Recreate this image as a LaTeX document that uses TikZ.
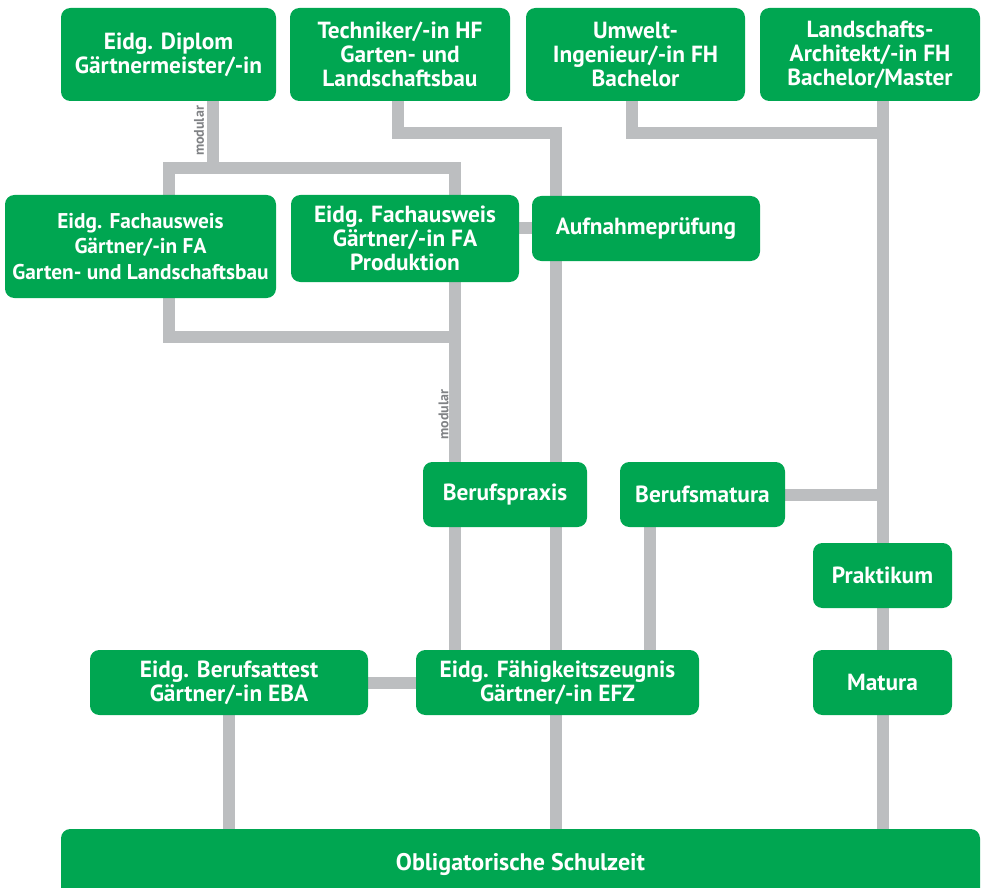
\documentclass[tikz,border=0pt]{standalone}
\usepackage{fontspec}
\setmainfont{PT Sans}
\usepackage{tikz}
\usetikzlibrary{backgrounds, calc}
\definecolor{gruen}{RGB}{0, 166, 81}
\definecolor{pfad}{RGB}{188, 190, 192}
\definecolor{modgrau}{RGB}{128, 130, 133}

\begin{document}
\begin{tikzpicture}[
    x=0.75pt, y=-0.75pt,
    box/.style={rectangle, rounded corners=7pt, fill=gruen, text=white, align=center, inner sep=0pt, font=\fontsize{17.5}{18}\selectfont\bfseries},
    obenbox/.style={box, minimum height=69.75pt},
    kleinbox/.style={box, minimum height=48.75pt},
    weg/.style={draw=pfad, line width=9pt},
    modtext/.style={font=\fontsize{10.5}{11}\selectfont\bfseries, text=modgrau, rotate=90, inner sep=0pt}
]
\useasboundingbox (0,0) rectangle (982,888);

% Abschluesse oben
\node[obenbox, minimum width=161.25pt] (diplom) at (168.5,54.5) {Eidg. Diplom\\Gärtnermeister/-in};
\node[obenbox, minimum width=165pt] (techniker) at (400,54.5) {Techniker/-in HF\\Garten- und\\Landschaftsbau};
\node[obenbox, minimum width=164.25pt] (umwelt) at (635.5,54.5) {Umwelt-\\Ingenieur/-in FH\\Bachelor};
\node[obenbox, minimum width=165pt] (architekt) at (870,54.5) {Landschafts-\\Architekt/-in FH\\Bachelor/Master};

% Fachausweise
\node[box, minimum width=203.25pt, minimum height=77.25pt, font=\fontsize{16}{19}\selectfont\bfseries] (fagarten) at (140.5,246.5) {Eidg. Fachausweis\\Gärtner/-in FA\\Garten- und Landschaftsbau};
\node[box, minimum width=171pt, minimum height=65.25pt] (faprod) at (405,238.5) {Eidg. Fachausweis\\Gärtner/-in FA\\Produktion};
\node[kleinbox, minimum width=171pt] (aufnahme) at (646,228.5) {Aufnahmeprüfung};

% Mitte
\node[kleinbox, minimum width=123pt] (praxis) at (505,494.5) {Berufspraxis};
\node[kleinbox, minimum width=123.75pt] (bmatura) at (702.5,494.5) {Berufsmatura};
\node[kleinbox, minimum width=104.25pt] (praktikum) at (882.5,575.5) {Praktikum};

% Grundbildung
\node[kleinbox, minimum width=208.5pt] (eba) at (229,682.5) {Eidg. Berufsattest\\Gärtner/-in EBA};
\node[kleinbox, minimum width=212.25pt] (efz) at (557.5,682.5) {Eidg. Fähigkeitszeugnis\\Gärtner/-in EFZ};
\node[kleinbox, minimum width=104.25pt] (matura) at (882.5,682.5) {Matura};

\node[box, minimum width=689.25pt, minimum height=53.25pt, font=\fontsize{18}{19}\selectfont\bfseries] (schule) at (520.5,864.5) {Obligatorische Schulzeit};

% Knickpunkte
\coordinate (jdip) at (213,168);
\coordinate (jfl) at (169,168);
\coordinate (jfr) at (455,168);
\coordinate (jul) at (169,337);
\coordinate (jur) at (455,337);
\coordinate (jtech) at (398,133);
\coordinate (jhf) at (556,133);
\coordinate (jumw) at (632,133);
\coordinate (jarch) at (883,133);
\coordinate (jbm) at (650,580);

\begin{scope}[on background layer]
\draw[weg] (diplom.south -| jdip) -- (jdip);
\draw[weg] (fagarten.north -| jfl) -- (jfl) -- (jfr) -- (faprod.north -| jfr);
\draw[weg] (fagarten.south -| jul) -- (jul) -- (jur);
\draw[weg] (faprod.south -| jur) -- (efz.north -| jur);
\draw[weg] (techniker.south -| jtech) -- (jtech) -- (jhf) -- (schule.north -| jhf);
\draw[weg] (umwelt.south -| jumw) -- (jumw) -- (jarch);
\draw[weg] (architekt.south -| jarch) -- (schule.north -| jarch);
\draw[weg] (aufnahme.west) -- (aufnahme.west -| faprod.east);
\draw[weg] (bmatura.east) -- (bmatura.east -| jarch);
\draw[weg] (bmatura.south -| jbm) -- (efz.north -| jbm);
\draw[weg] (eba.east) -- (efz.west);
\draw[weg] (eba.south) -- (eba.south |- schule.north);
\end{scope}

\node[modtext] (mod1) at (199,131) {modular};
\node[modtext] (mod2) at (443.5,414.5) {modular};
\end{tikzpicture}
\end{document}
